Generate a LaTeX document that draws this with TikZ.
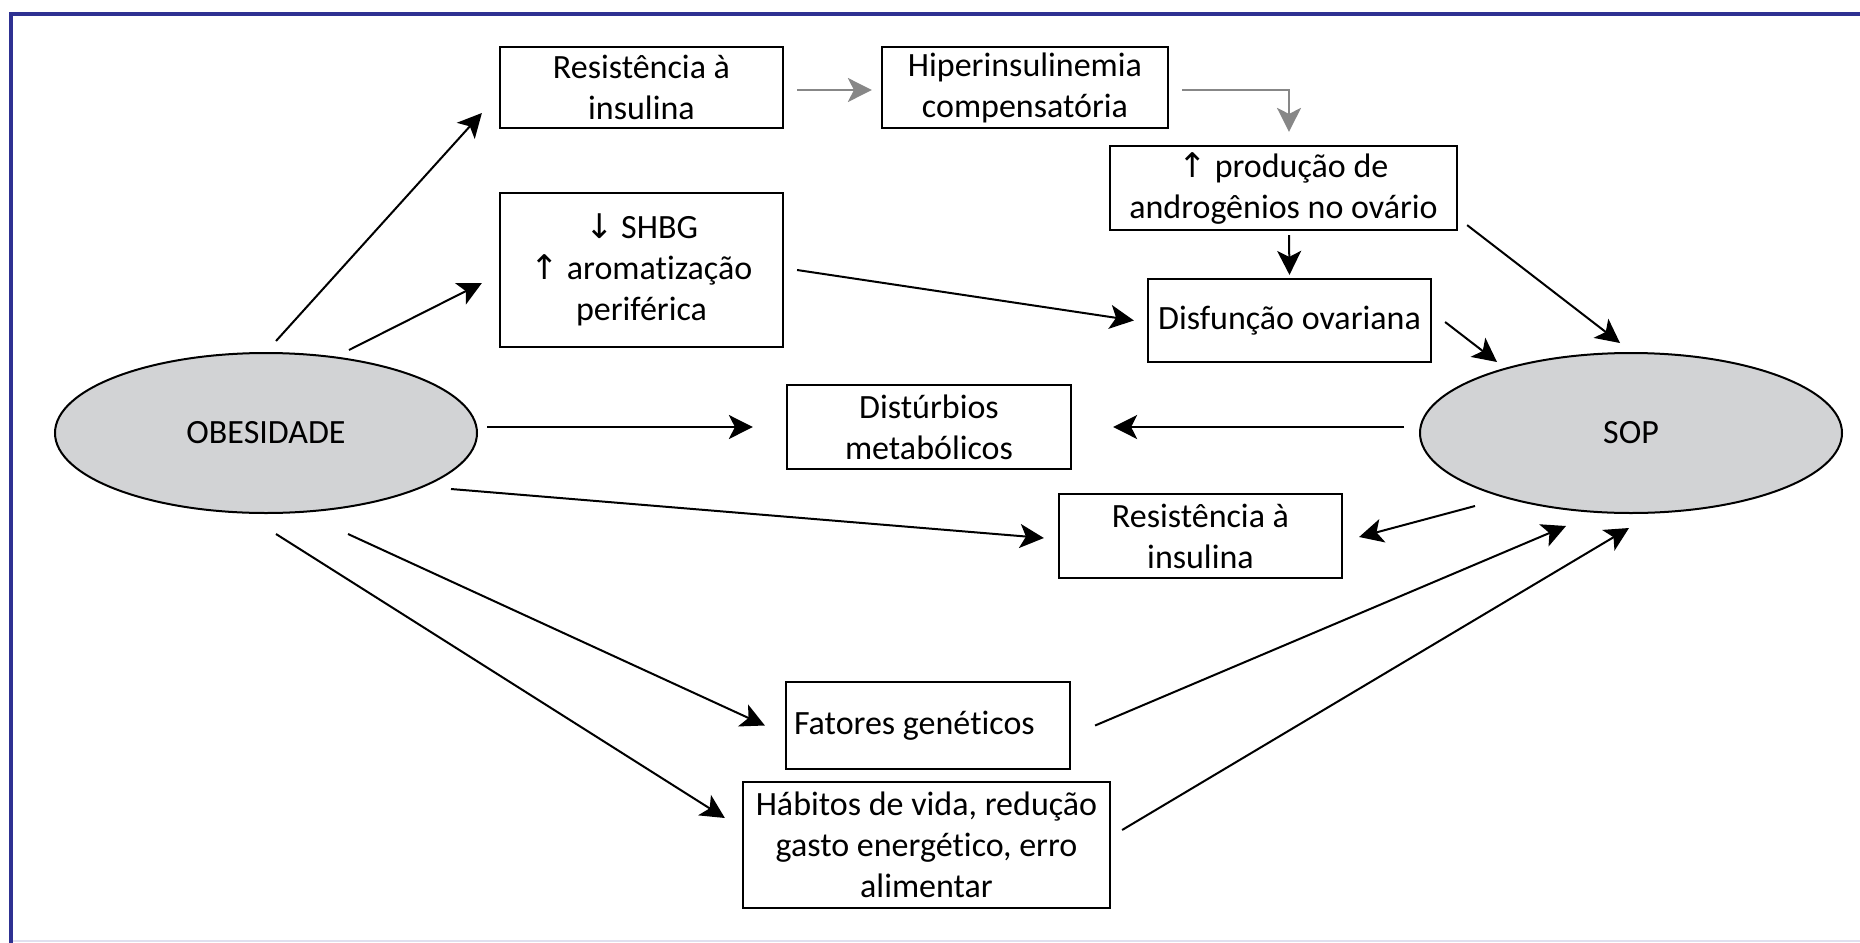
\documentclass[tikz,border=0pt]{standalone}
\usepackage{fontspec}
\setmainfont[Ligatures=NoCommon]{Carlito}
\newfontfamily\symfont{DejaVu Sans}
\usetikzlibrary{shapes.geometric,arrows.meta,calc}

\definecolor{moldura}{RGB}{46,49,146}
\definecolor{cinzaseta}{RGB}{135,135,135}
\definecolor{cinzaelipse}{RGB}{210,211,213}
\newcommand{\cima}{{\symfont\char"2191}}
\newcommand{\baixo}{{\symfont\char"2193}}

\begin{document}
\begin{tikzpicture}[x=0.5pt,y=-0.5pt,
  font=\fontsize{17}{20.5}\selectfont,
  caixa/.style={draw,line width=1.1pt,align=center,inner sep=2pt},
  elipse/.style={ellipse,draw,line width=1pt,fill=cinzaelipse,
    minimum width=211pt,minimum height=80pt,inner sep=0pt},
  seta/.style={-{Stealth[length=12pt,width=12pt,inset=3pt]},line width=1pt},
  setacinza/.style={seta,draw=cinzaseta}]

\useasboundingbox (0,0) rectangle (1860,943);

%moldura
\draw[moldura!15,line width=1pt] (11,941) -- (1860,941);
\draw[moldura,line width=2pt] (11,943) -- (11,14) -- (1860,14);

%obesidade e SOP
\node[elipse] (obes) at (266,433) {OBESIDADE};
\node[elipse] (sop) at (1631,433) {SOP};

%caixas
\node[caixa,minimum width=141.5pt,minimum height=40.5pt] (ri1) at (641.5,87.5) {Resistência à\\insulina};
\node[caixa,minimum width=143pt,minimum height=40.5pt] (hiper) at (1025,87.5) {Hiperinsulinemia\\compensatória};
\node[caixa,minimum width=173.5pt,minimum height=42pt] (andro) at (1283.5,188) {\cima{} produção de\\androgênios no ovário};
\node[caixa,minimum width=141.5pt,minimum height=77pt] (shbg) at (641.5,270) {\baixo{} SHBG\\\cima{} aromatização\\periférica};
\node[caixa,minimum width=141.5pt,minimum height=41.5pt] (disf) at (1289.5,320.5) {Disfunção ovariana};
\node[caixa,minimum width=142pt,minimum height=42pt] (dist) at (929,427) {Distúrbios\\metabólicos};
\node[caixa,minimum width=141.5pt,minimum height=42pt] (ri2) at (1200.5,536) {Resistência à\\insulina};
\node[caixa,text width=134pt,align=flush left,inner xsep=4pt,minimum height=43.5pt] (fat) at (928,725.5) {Fatores genéticos};
\node[caixa,minimum width=183.5pt,minimum height=63pt] (hab) at (926.5,845) {Hábitos de vida, redução\\gasto energético, erro\\alimentar};

%via da insulina
\draw[setacinza] ($(ri1.east)+(13,2.5)$) -- ($(hiper.west)+(-9,2.5)$);
\draw[setacinza] ($(hiper.east)+(13,2.5)$) -| ($(andro.north)+(5.5,-13)$);
\draw[seta] ($(andro.south)+(5.5,4)$) -- ($(disf.north)+(0,-3)$);
\draw[seta] ($(shbg.east)+(13,0)$) -- ($(disf.west)+(-13,0)$);

%saindo da obesidade
\draw[seta] ($(obes.north)+(10,-11)$) -- ($(ri1.west)+(-17,25.5)$);
\draw[seta] ($(obes.north)+(83,-2)$) -- ($(shbg.west)+(-17,13)$);
\draw[seta] ($(obes.east)+(9,-6)$) -- ($(dist.west)+(-33,0)$);
\draw[seta] ($(obes.east)+(-27,56)$) -- ($(ri2.west)+(-14,2)$);
\draw[seta] ($(obes.south)+(82,20)$) -- ($(fat.west)+(-20,0)$);
\draw[seta] ($(obes.south)+(10,20)$) -- ($(hab.west)+(-17,-27)$);

%SOP
\draw[seta] ($(disf.east)+(13,1.5)$) -- ($(sop.center)+(-134,-71)$);
\draw[seta] ($(andro.south east)+(9,-6)$) -- ($(sop.north)+(-11,-9)$);
\draw[seta] ($(sop.west)+(-15,-6)$) -- ($(dist.east)+(41,0)$);
\draw[seta] ($(sop.center)+(-156,73)$) -- ($(ri2.east)+(16,1)$);
\draw[seta] ($(fat.east)+(24,0)$) -- ($(sop.south)+(-65,12)$);
\draw[seta] ($(hab.east)+(11,-15)$) -- ($(sop.south)+(-2,14)$);

\end{tikzpicture}
\end{document}
